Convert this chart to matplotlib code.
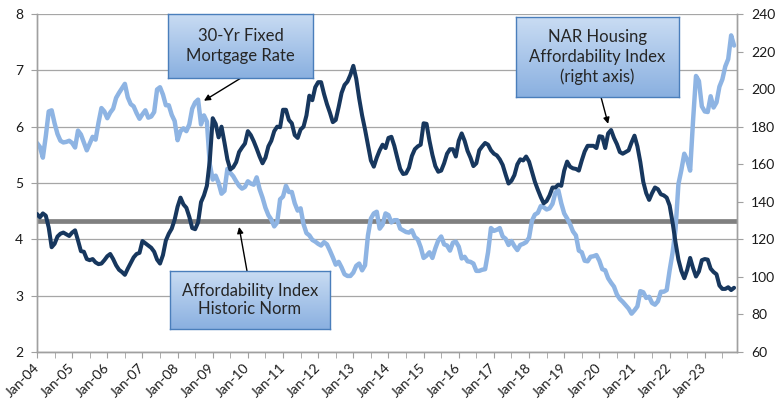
import numpy as np
import matplotlib
matplotlib.use("Agg")
import matplotlib.pyplot as plt
from matplotlib.colors import LinearSegmentedColormap

# ---------------- data ----------------
tick_labels = ["Jan-04", "Jan-05", "Jan-06", "Jan-07", "Jan-08", "Jan-09", "Jan-10",
               "Jan-11", "Jan-12", "Jan-13", "Jan-14", "Jan-15", "Jan-16", "Jan-17",
               "Jan-18", "Jan-19", "Jan-20", "Jan-21", "Jan-22", "Jan-23"]

# 30-yr fixed mortgage rate (%), monthly Jan-04 .. Nov-23 (left axis)
mortgage_rate = [
    5.71, 5.64, 5.45, 5.83, 6.27, 6.29, 6.06, 5.87, 5.75, 5.72, 5.73, 5.75,
    5.71, 5.63, 5.93, 5.86, 5.72, 5.58, 5.70, 5.82, 5.77, 6.07, 6.33, 6.27,
    6.15, 6.25, 6.32, 6.51, 6.60, 6.68, 6.76, 6.52, 6.40, 6.36, 6.24, 6.14,
    6.22, 6.29, 6.16, 6.18, 6.26, 6.66, 6.70, 6.57, 6.38, 6.38, 6.21, 6.10,
    5.76, 5.92, 5.97, 5.92, 6.04, 6.32, 6.43, 6.48, 6.04, 6.20, 6.09, 5.33,
    5.06, 5.13, 5.00, 4.81, 4.86, 5.25, 5.18, 5.12, 5.03, 4.95, 4.90, 4.93,
    5.03, 4.99, 4.97, 5.10, 4.89, 4.74, 4.56, 4.43, 4.35, 4.23, 4.30, 4.71,
    4.76, 4.95, 4.84, 4.84, 4.64, 4.51, 4.55, 4.27, 4.11, 4.07, 3.99, 3.96,
    3.92, 3.89, 3.95, 3.91, 3.80, 3.68, 3.55, 3.60, 3.50, 3.38, 3.35, 3.35,
    3.41, 3.53, 3.57, 3.45, 3.54, 4.07, 4.37, 4.46, 4.49, 4.19, 4.26, 4.46,
    4.43, 4.30, 4.34, 4.34, 4.19, 4.16, 4.13, 4.12, 4.16, 4.04, 4.00, 3.86,
    3.67, 3.71, 3.77, 3.67, 3.84, 3.98, 4.05, 3.91, 3.89, 3.80, 3.94, 3.96,
    3.87, 3.66, 3.69, 3.61, 3.60, 3.57, 3.44, 3.44, 3.46, 3.47, 3.77, 4.20,
    4.15, 4.17, 4.20, 4.05, 4.01, 3.90, 3.97, 3.88, 3.81, 3.90, 3.92, 3.95,
    4.03, 4.33, 4.44, 4.47, 4.59, 4.57, 4.53, 4.55, 4.63, 4.83, 4.87, 4.64,
    4.46, 4.37, 4.27, 4.14, 4.07, 3.80, 3.77, 3.62, 3.61, 3.69, 3.70, 3.72,
    3.62, 3.47, 3.45, 3.31, 3.23, 3.16, 3.02, 2.94, 2.89, 2.83, 2.77, 2.68,
    2.74, 2.81, 3.08, 3.06, 2.96, 2.98, 2.87, 2.84, 2.90, 3.07, 3.07, 3.10,
    3.45, 3.76, 4.17, 4.98, 5.23, 5.52, 5.41, 5.22, 6.11, 6.90, 6.81, 6.36,
    6.27, 6.26, 6.54, 6.34, 6.43, 6.71, 6.84, 7.07, 7.20, 7.62, 7.44,
]

# NAR Housing Affordability Index, monthly Jan-04 .. Nov-23 (right axis)
hai = [
    133.5, 131.7, 133.8, 132.6, 126.3, 115.8, 117.6, 121.5, 123.0, 123.6, 122.7, 121.8,
    123.6, 124.8, 119.4, 113.7, 113.4, 109.5, 108.9, 109.5, 107.7, 106.8, 107.1, 108.9,
    111.0, 112.2, 109.5, 106.2, 103.8, 102.6, 101.1, 104.4, 107.4, 110.4, 112.2, 112.8,
    119.1, 117.9, 116.7, 115.5, 113.4, 109.2, 107.1, 111.6, 119.4, 123.0, 125.7, 130.5,
    137.4, 142.2, 138.6, 136.8, 132.0, 126.0, 125.4, 129.0, 139.8, 143.4, 148.5, 162.0,
    184.5, 181.5, 174.3, 180.0, 171.6, 162.6, 157.2, 158.4, 161.1, 166.5, 168.9, 171.0,
    177.6, 175.5, 172.2, 168.3, 164.1, 160.5, 163.5, 169.5, 172.5, 177.6, 180.0, 179.7,
    189.0, 189.0, 183.6, 181.8, 175.5, 174.0, 178.5, 180.0, 186.0, 196.5, 194.1, 201.0,
    203.7, 203.7, 197.4, 192.0, 187.5, 182.4, 183.6, 190.5, 198.0, 202.2, 204.0, 207.6,
    212.4, 205.5, 195.0, 186.0, 178.5, 170.4, 162.0, 158.7, 163.5, 167.4, 170.4, 168.6,
    174.0, 174.6, 169.8, 163.5, 157.5, 154.8, 155.1, 158.1, 164.4, 168.0, 169.5, 170.4,
    181.8, 181.5, 172.5, 165.0, 159.0, 156.0, 156.6, 160.5, 165.6, 168.0, 168.0, 164.1,
    172.5, 176.4, 172.5, 167.1, 163.5, 159.0, 160.5, 167.4, 169.5, 171.3, 170.4, 167.4,
    165.6, 164.7, 162.6, 159.6, 154.5, 149.7, 151.2, 154.2, 159.9, 162.6, 162.0, 164.1,
    161.4, 156.0, 150.6, 146.4, 142.5, 139.2, 140.4, 143.4, 147.6, 147.6, 149.1, 148.5,
    156.6, 161.4, 158.7, 157.8, 157.5, 156.6, 162.0, 166.8, 169.8, 169.8, 169.8, 168.6,
    174.9, 174.6, 168.6, 176.4, 178.2, 174.0, 170.7, 166.5, 165.6, 166.5, 167.4, 171.6,
    175.2, 169.5, 161.1, 150.6, 144.6, 141.0, 144.6, 147.6, 146.7, 144.0, 143.4, 142.2,
    138.0, 129.0, 118.5, 109.2, 103.2, 99.3, 103.8, 110.1, 104.7, 100.2, 102.9, 108.9,
    109.5, 109.2, 104.4, 102.6, 101.4, 95.4, 93.6, 93.6, 94.5, 93.0, 94.2,
]

historic_norm = 130.0  # affordability index historic norm (right axis units)

# ---------------- style ----------------
FONT = "Lato"
plt.rcParams["font.family"] = [FONT, "DejaVu Sans"]
LIGHT = "#8EB4E3"
DARK = "#17375E"
GRID = "#A6A6A6"
AXC = "#A0A0A0"
TXT = "#1a1a1a"

W, H = 776, 404
fig = plt.figure(figsize=(W / 100, H / 100), dpi=100)
L, R, T, B = 37, 737, 14, 352
ax = fig.add_axes([L / W, 1 - B / H, (R - L) / W, (B - T) / H])
ax2 = ax.twinx()

x = np.arange(len(mortgage_rate))
x2 = np.arange(len(hai))
n_months = 12 * len(tick_labels)

# left axis 2..8, right axis 60..240 (right = 30 * left)
ax.set_ylim(2, 8)
ax2.set_ylim(60, 240)
ax.set_xlim(0, n_months - 1)

ax.set_yticks(range(2, 9))
ax2.set_yticks(range(60, 241, 20))
ax.yaxis.grid(True, color=GRID, linewidth=0.9)
ax.set_axisbelow(True)

# historic norm line (drawn in left-axis units so it sits below the lines)
ax.axhline(historic_norm / 30.0, color="#808080", linewidth=3.4, zorder=2)
ax.plot(x, mortgage_rate, color=LIGHT, linewidth=3.2, zorder=3,
        solid_joinstyle="round", solid_capstyle="round")
ax2.plot(x2, hai, color=DARK, linewidth=2.9, zorder=3,
         solid_joinstyle="round", solid_capstyle="round")

# x ticks
ax.set_xticks(np.arange(0, n_months, 12))
ax.set_xticks(np.arange(0, n_months, 6), minor=True)
ax.set_xticklabels(tick_labels, rotation=45, ha="right", va="center",
                   rotation_mode="anchor", fontsize=10, color=TXT)
ax.tick_params(axis="x", which="both", direction="out", length=4,
               color=AXC, pad=6)
ax.tick_params(axis="y", direction="out", length=4, color=AXC, pad=6,
               labelsize=10, labelcolor=TXT)
ax2.tick_params(axis="y", direction="out", length=4, color=AXC, pad=6,
                labelsize=10, labelcolor=TXT)

for a in (ax, ax2):
    a.spines["top"].set_visible(False)
    for s in ("left", "right", "bottom"):
        a.spines[s].set_color(AXC)
        a.spines[s].set_linewidth(1.0)

# ---------------- annotation boxes ----------------
grad_cmap = LinearSegmentedColormap.from_list("g", ["#8AB0E0", "#C9DCF3"])


def box(x0, y0, x1, y1, text, spacing):
    bax = fig.add_axes([x0 / W, 1 - y1 / H, (x1 - x0) / W, (y1 - y0) / H])
    grad = np.linspace(0, 1, 100).reshape(-1, 1)
    bax.imshow(grad, aspect="auto", cmap=grad_cmap, origin="lower",
               extent=[0, 1, 0, 1])
    bax.set_xlim(0, 1)
    bax.set_ylim(0, 1)
    bax.set_xticks([])
    bax.set_yticks([])
    for s in bax.spines.values():
        s.set_color("#4A7EBB")
        s.set_linewidth(1.0)
    bax.text(0.5, 0.5, text, ha="center", va="center", fontsize=12,
             color="#262626", linespacing=spacing, transform=bax.transAxes)
    return bax


def arrow(px_from, data_to):
    ax.annotate("", xy=data_to, xycoords="data",
                xytext=(px_from[0], H - px_from[1]), textcoords="figure pixels",
                arrowprops=dict(arrowstyle="-|>", color="black", lw=1.0,
                                mutation_scale=9, shrinkA=0, shrinkB=0),
                annotation_clip=False, zorder=6)


box(168, 14, 313, 78, "30-Yr Fixed\nMortgage Rate", 1.25)
box(516, 17, 679, 97, "NAR Housing\nAffordability Index\n(right axis)", 1.25)
box(170, 271, 330, 329, "Affordability Index\nHistoric Norm", 1.15)

arrow((241, 78), (57.0, 6.46))
arrow((601, 97), (195.0, 6.05))
arrow((247, 271), (69.0, 4.22))

fig.savefig("out.png", dpi=100)
